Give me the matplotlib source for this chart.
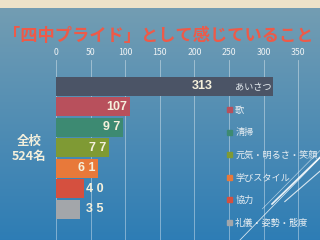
import matplotlib.pyplot as plt
import numpy as np
from matplotlib.patches import Patch
from matplotlib.lines import Line2D

plt.rcParams['font.family'] = ['Noto Sans CJK JP', 'DejaVu Sans']

# Data
categories = ['あいさつ', '歌', '清掃', '元気・明るさ・笑顔', '学びスタイル', '協力', '礼儀・姿勢・態度']
counts = [313, 107, 97, 77, 61, 40, 35]
bar_colors = ['#4b5466', '#b8505c', '#3d8a72', '#7f9a34', '#e8793a', '#d5503f', '#a3a6aa']
xticks = [0, 50, 100, 150, 200, 250, 300, 350]
title = '「四中プライド」として感じていること'
side_note = '全校\n524名'

fig = plt.figure(figsize=(3.2, 2.4), dpi=100)

# background: beige strip at top, blue gradient panel below
bg = fig.add_axes([0, 0, 1, 1])
grad = np.linspace(0, 1, 240)[:, None]
top = np.array([0.46, 0.62, 0.70])
bot = np.array([0.18, 0.49, 0.71])
img = top + (bot - top) * grad[..., None]
img = np.repeat(img, 2, axis=1)
img[:8] = [0.93, 0.89, 0.79]
bg.imshow(img, aspect='auto', extent=[0, 1, 0, 1], origin='upper')
bg.set_axis_off()

# decorative diagonal lines
for (x0, y0, x1, y1, lw, a) in [(0.75, 0.0, 1.02, 0.37, 0.6, 0.8),
                                (0.85, 0.15, 1.02, 0.37, 1.2, 0.9),
                                (0.89, 0.16, 1.02, 0.31, 0.8, 0.8),
                                (0.82, 0.13, 1.02, 0.40, 0.5, 0.6)]:
    fig.add_artist(Line2D([x0, x1], [y0, y1], transform=fig.transFigure,
                          color='white', lw=lw, alpha=a))

fig.text(0.008, 0.852, title, color='#ee5a48', fontsize=12.4, fontweight='bold',
         va='center', ha='left')
fig.text(0.09, 0.38, side_note, color='#f3efdc', fontsize=9, fontweight='bold',
         va='center', ha='center', linespacing=1.2)

ax = fig.add_axes([0.175, 0.0, 0.8, 0.75])
ax.set_facecolor('none')
y = np.arange(len(counts))
bars = ax.barh(y, counts, height=0.93, color=bar_colors, zorder=2)
ax.set_xlim(0, 370)
ax.set_ylim(7.49, -1.29)
ax.set_xticks(xticks)
ax.xaxis.tick_top()
ax.tick_params(axis='x', length=0, pad=2.5, labelsize=6.3, labelcolor='#eef2f4')
ax.set_yticks([])
for s in ax.spines.values():
    s.set_visible(False)
ax.grid(axis='x', color='white', alpha=0.45, lw=0.6, zorder=1)

for i, v in enumerate(counts):
    txt = str(v) if v >= 100 else ' '.join(str(v))
    if i == 0:
        ax.text(227, i, txt, ha='right', va='center', color='#f5f0dc',
                fontsize=9, fontweight='bold', family='Liberation Sans', zorder=3)
    elif v >= 50:
        ax.text(v - 4, i, txt, ha='right', va='center', color='#f5f0dc',
                fontsize=9, fontweight='bold', family='Liberation Sans', zorder=3)
    else:
        ax.text(43, i, txt, ha='left', va='center', color='#f5f0dc',
                fontsize=9, fontweight='bold', family='Liberation Sans', zorder=3)

handles = [Patch(color=c) for c in bar_colors]
leg = ax.legend(handles, categories, loc='upper left', bbox_to_anchor=(0.655, 0.89),
                frameon=False, fontsize=6.6, handlelength=0.5, handleheight=0.5,
                handletextpad=0.35, labelspacing=1.47, borderaxespad=0)
for t in leg.get_texts():
    t.set_color('#e8eef2')

fig.savefig('out.png', dpi=100)
